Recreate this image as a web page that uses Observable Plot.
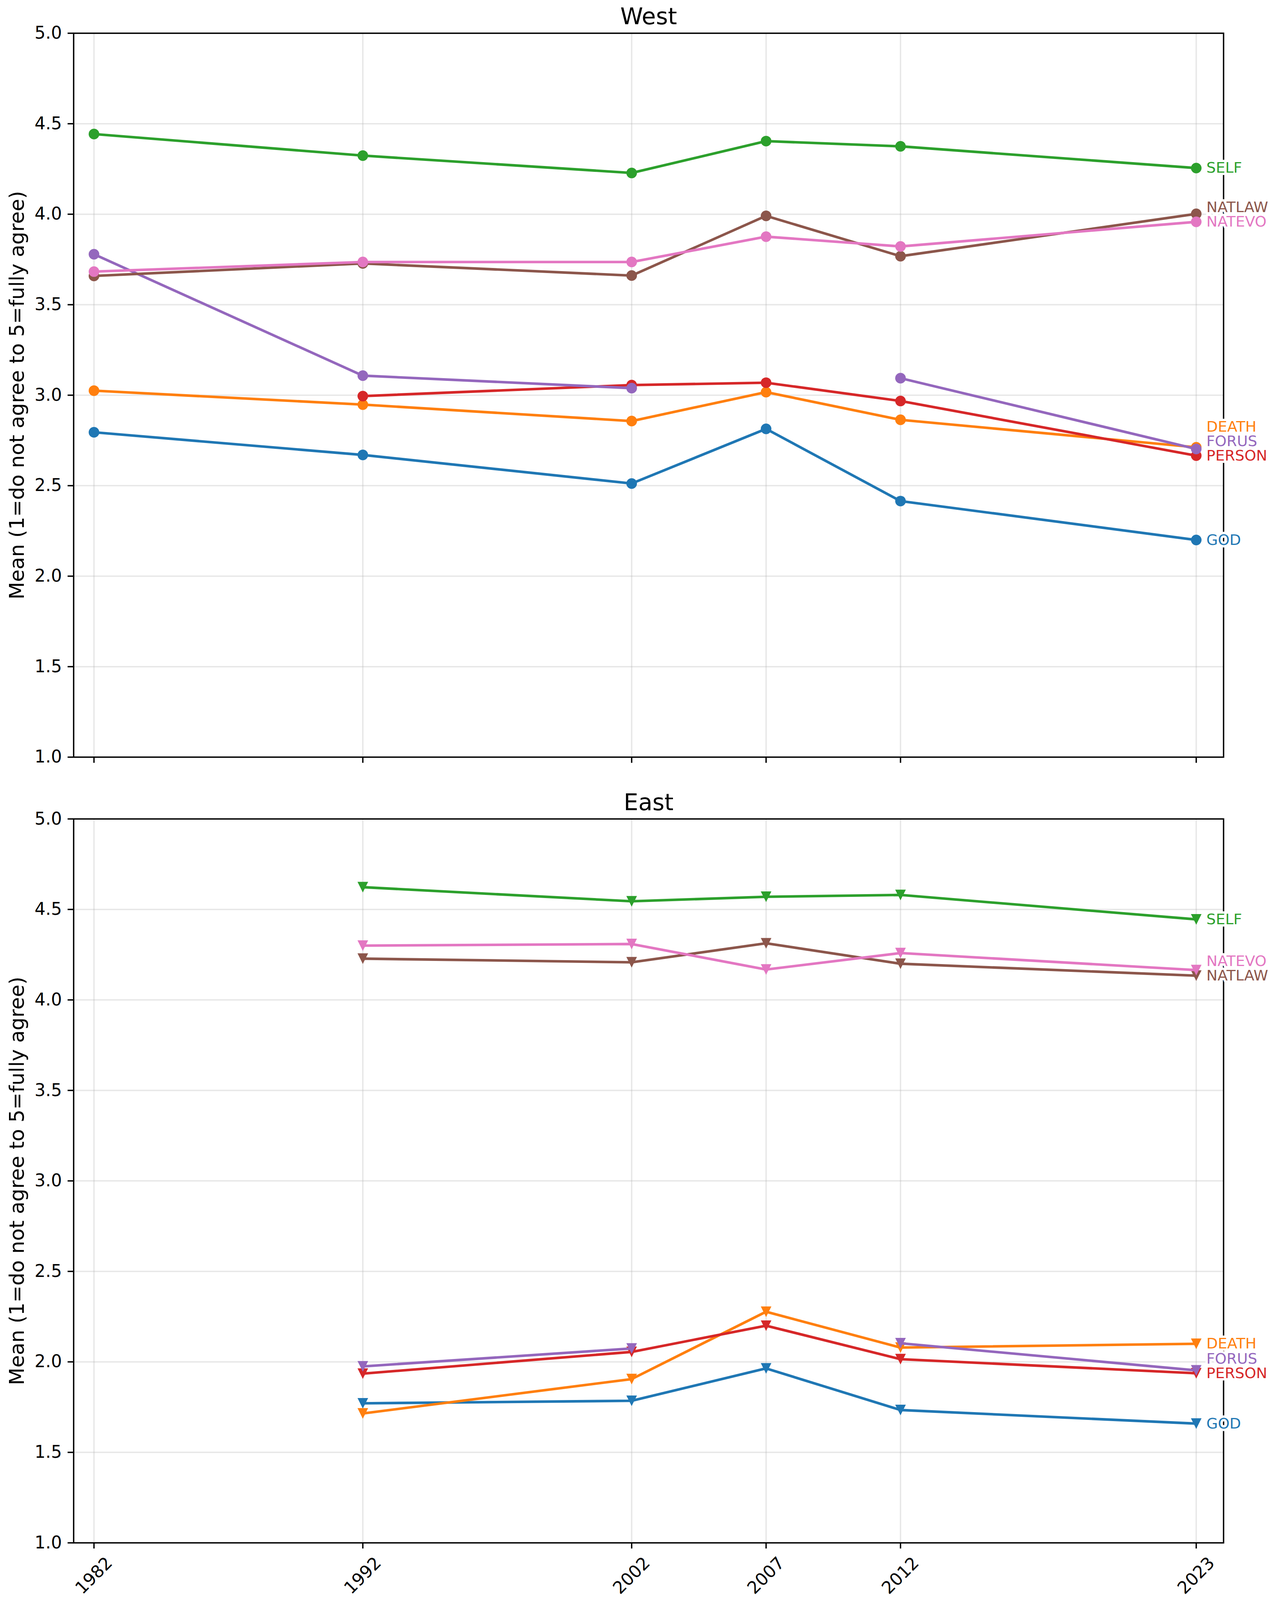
<!DOCTYPE html>
<html>
<head>
<meta charset="utf-8">
<script src="https://cdn.jsdelivr.net/npm/d3@7"></script>
<script src="https://cdn.jsdelivr.net/npm/@observablehq/plot@0.6"></script>
<style>
  html, body { margin: 0; padding: 0; background: #ffffff; overflow: hidden; }
  #chart { width: 3258px; background: #ffffff; }
  #chart svg { display: block; max-width: none; }
</style>
</head>
<body>
<div id="chart"></div>
<script>
// ---------- data ----------
const years = [1982, 1992, 2002, 2007, 2012, 2023];
const seriesNames = ["GOD", "DEATH", "SELF", "PERSON", "FORUS", "NATLAW", "NATEVO"];
const seriesColors = ["#1f77b4", "#ff7f0e", "#2ca02c", "#d62728", "#9467bd", "#8c564b", "#e377c2"];
const yTicks = [1.0, 1.5, 2.0, 2.5, 3.0, 3.5, 4.0, 4.5, 5.0];
const panelTitles = ["West", "East"];
const yLabel = "Mean (1=do not agree to 5=fully agree)";

// West (1982, 1992, 2002, 2007, 2012, 2023)
const westGOD    = [2.795, 2.670, 2.512, 2.814, 2.415, 2.200];
const westDEATH  = [3.025, 2.948, 2.857, 3.017, 2.864, 2.712];
const westSELF   = [4.443, 4.324, 4.228, 4.404, 4.375, 4.255];
const westPERSON = [null,  2.995, 3.056, 3.069, 2.968, 2.666];
const westFORUS  = [3.779, 3.108, 3.039, null,  3.094, 2.703];
const westNATLAW = [3.659, 3.728, 3.661, 3.991, 3.768, 4.002];
const westNATEVO = [3.683, 3.736, 3.736, 3.876, 3.822, 3.958];

// East (1982, 1992, 2002, 2007, 2012, 2023)
const eastGOD    = [null, 1.771, 1.785, 1.964, 1.734, 1.659];
const eastDEATH  = [null, 1.715, 1.905, 2.277, 2.079, 2.100];
const eastSELF   = [null, 4.623, 4.545, 4.570, 4.580, 4.445];
const eastPERSON = [null, 1.935, 2.055, 2.200, 2.015, 1.937];
const eastFORUS  = [null, 1.975, 2.074, null,  2.103, 1.953];
const eastNATLAW = [null, 4.228, 4.208, 4.313, 4.200, 4.134];
const eastNATEVO = [null, 4.300, 4.309, 4.168, 4.259, 4.165];

const westValues = [westGOD, westDEATH, westSELF, westPERSON, westFORUS, westNATLAW, westNATEVO];
const eastValues = [eastGOD, eastDEATH, eastSELF, eastPERSON, eastFORUS, eastNATLAW, eastNATEVO];

// ---------- layout ----------
const FONT = "DejaVu Sans";
const W = 3258;
const FULL_H = 5368;
const H = Math.min(FULL_H, window.innerHeight > 0 ? window.innerHeight : FULL_H);
const marginLeft = 188, marginRight = 127;
const topMargin = 84.6, gapHalf = 79, bottomMargin = 147;
const panelH = (H - topMargin - 2 * gapHalf - bottomMargin) / 2;
const xDomain = [1981.244, 2024.017];
const labelGapPx = 37;

const triangleDown = {
  draw(context, size) {
    const r = Math.sqrt(size / Math.PI);
    context.moveTo(0, r);
    context.lineTo(-r, -r);
    context.lineTo(r, -r);
    context.closePath();
  }
};

function rowsFor(valueArrays) {
  return seriesNames.map((name, i) =>
    years.map((year, j) => ({series: name, color: seriesColors[i], year, value: valueArrays[i][j]}))
  );
}

// end labels pushed apart upward (bottom-up) so they never overlap
function endLabels(valueArrays) {
  const last = years.length - 1;
  const items = seriesNames.map((name, i) => ({series: name, color: seriesColors[i], year: years[last], value: valueArrays[i][last]}));
  const sorted = items.slice().sort((a, b) => a.value - b.value);
  const gap = labelGapPx / (panelH / 4);
  let prev = -Infinity;
  for (const it of sorted) {
    it.labelY = Math.max(it.value, prev + gap);
    prev = it.labelY;
  }
  return items;
}

function panel({title, valueArrays, symbol, marginTop, marginBottom, xLabels}) {
  const rows = rowsFor(valueArrays);
  const labels = endLabels(valueArrays);
  const height = marginTop + panelH + marginBottom;
  const marks = [
    Plot.gridX(years, {x: d => d, stroke: "#b0b0b0", strokeOpacity: 0.3, strokeWidth: 3.5}),
    Plot.gridY(yTicks, {y: d => d, stroke: "#b0b0b0", strokeOpacity: 0.3, strokeWidth: 3.5})
  ];
  rows.forEach(serie => {
    marks.push(Plot.line(serie, {x: "year", y: "value", stroke: serie[0].color, strokeWidth: 6.6}));
    marks.push(Plot.dot(serie.filter(d => d.value != null), {x: "year", y: "value", fill: serie[0].color, stroke: "none", r: 13.6, symbol}));
  });
  marks.push(
    Plot.frame({stroke: "#000000", strokeWidth: 3.5}),
    Plot.axisY(yTicks, {tickSize: 15, tickPadding: 15, tickFormat: d3.format(".1f"), fontSize: 44, label: null, strokeWidth: 3.5}),
    Plot.tickX(years, {x: d => d, stroke: "#000000", strokeWidth: 3.5, insetTop: panelH, insetBottom: -15}),
    Plot.text(labels, {x: "year", y: "labelY", text: "series", fill: "color", dx: 26, textAnchor: "start", lineAnchor: "middle",
      fontSize: 38, stroke: "white", strokeWidth: 12, strokeLinejoin: "round", paintOrder: "stroke"}),
    Plot.text([title], {frameAnchor: "top", text: d => d, dy: -22.6, lineAnchor: "bottom", fontSize: 59, fill: "#000000"}),
    Plot.text([yLabel], {frameAnchor: "left", text: d => d, dx: -144.6, rotate: -90, lineAnchor: "middle", textAnchor: "middle", fontSize: 52, fill: "#000000"})
  );
  if (xLabels) {
    marks.push(Plot.text(years, {x: d => d, frameAnchor: "bottom", text: d => String(d), dy: 84, rotate: -45,
      textAnchor: "middle", lineAnchor: "middle", fontSize: 44, fill: "#000000"}));
  }
  return Plot.plot({
    width: W,
    height,
    marginLeft, marginRight, marginTop, marginBottom,
    style: {fontFamily: FONT, fontSize: "44px", color: "#000000", background: "#ffffff", overflow: "visible"},
    x: {type: "linear", domain: xDomain, axis: null},
    y: {type: "linear", domain: [1, 5], axis: null},
    marks
  });
}

const chart = document.getElementById("chart");
chart.style.height = H + "px";
chart.appendChild(panel({title: panelTitles[0], valueArrays: westValues, symbol: "circle",
  marginTop: topMargin, marginBottom: gapHalf, xLabels: false}));
chart.appendChild(panel({title: panelTitles[1], valueArrays: eastValues, symbol: triangleDown,
  marginTop: gapHalf, marginBottom: bottomMargin, xLabels: true}));
</script>
</body>
</html>
